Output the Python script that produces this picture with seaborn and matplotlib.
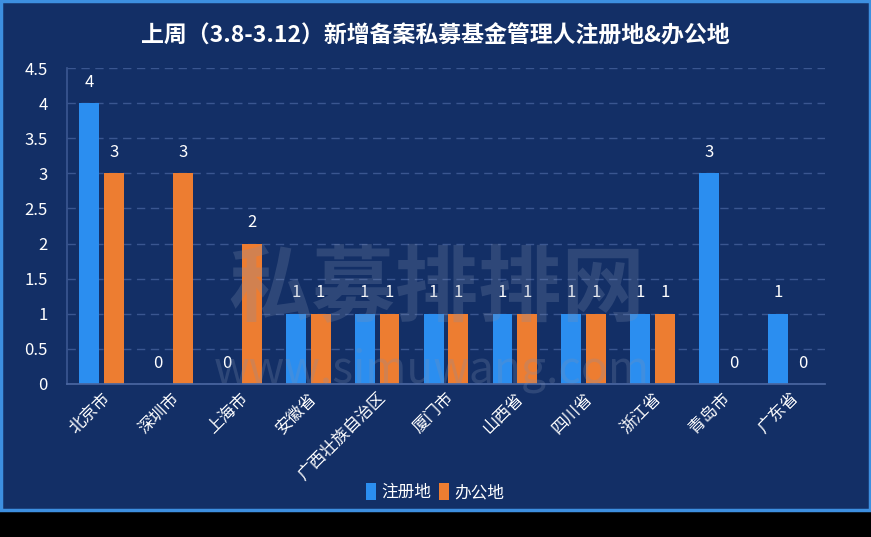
import pandas as pd
import matplotlib.pyplot as plt
import seaborn as sns
from matplotlib.patches import Rectangle

# data
regions = ['北京市', '深圳市', '上海市', '安徽省', '广西壮族自治区', '厦门市',
           '山西省', '四川省', '浙江省', '青岛市', '广东省']
registered = [4, 0, 0, 1, 1, 1, 1, 1, 1, 3, 1]
office = [3, 3, 2, 1, 1, 1, 1, 1, 1, 0, 0]
series_names = ['注册地', '办公地']
colors = ['#2b8ef0', '#ed7d31']

bg = '#132f66'

df = pd.DataFrame({
    'region': regions * 2,
    'count': registered + office,
    'kind': [series_names[0]] * len(regions) + [series_names[1]] * len(regions),
})

sns.set_theme(style='dark')
plt.rcParams['font.family'] = ['Noto Sans CJK SC', 'DejaVu Sans']

fig = plt.figure(figsize=(8.71, 5.37), dpi=100)
fig.patch.set_facecolor(bg)
# black strip at the bottom and light blue frame
fig.add_artist(Rectangle((0, 0), 1, 25 / 537, transform=fig.transFigure,
                         facecolor='black', edgecolor='none', zorder=-1))
fig.add_artist(Rectangle((0.0015, 27 / 537), 0.997, 1 - 28 / 537, transform=fig.transFigure,
                         facecolor='none', edgecolor='#3d8fe0', linewidth=2.5, zorder=-1))

ax = fig.add_axes([67 / 871, 1 - 384 / 537, (825 - 67) / 871, (384 - 68) / 537])
ax.set_facecolor(bg)

# faint watermark, drawn under the bars
fig.text(437 / 871, 1 - 290 / 537, '私募排排网', ha='center', va='center',
         color='#8090b0', alpha=0.25, fontsize=60, fontweight='bold', zorder=0)
fig.text(432 / 871, 1 - 370 / 537, 'www.simuwang.com', ha='center', va='center',
         color='#8090b0', alpha=0.25, fontsize=32, zorder=0)

sns.barplot(data=df, x='region', y='count', hue='kind', palette=colors,
            width=0.72, gap=0.2, ax=ax, legend=True, saturation=1,
            edgecolor='none', linewidth=0)

for cont in ax.containers:
    ax.bar_label(cont, padding=9, color='white', fontsize=12)

ax.set_ylim(0, 4.5)
ax.set_yticks([0, 0.5, 1, 1.5, 2, 2.5, 3, 3.5, 4, 4.5])
ax.set_yticklabels(['0', '0.5', '1', '1.5', '2', '2.5', '3', '3.5', '4', '4.5'])
ax.set_xlim(-0.5, len(regions) - 0.5)
ax.tick_params(axis='y', colors='white', labelsize=12, length=0, pad=14)
ax.tick_params(axis='x', colors='white', labelsize=12, length=0, pad=4)
plt.setp(ax.get_xticklabels(), rotation=45, ha='right', rotation_mode='anchor')
ax.set_xlabel('')
ax.set_ylabel('')

ax.grid(axis='y', color='#3a5690', linestyle=(0, (6, 4)), linewidth=1)
ax.grid(axis='x', visible=False)
ax.set_axisbelow(True)
for side in ['top', 'right']:
    ax.spines[side].set_visible(False)
ax.spines['left'].set_color('#3a5690')
ax.spines['bottom'].set_color('#4a66a0')

leg = ax.legend(loc='center', bbox_to_anchor=(435 / 871, 1 - 492 / 537),
                bbox_transform=fig.transFigure, ncol=2, frameon=False,
                handlelength=0.6, handleheight=1.2, handletextpad=0.3,
                columnspacing=0.5, fontsize=12)
for t in leg.get_texts():
    t.set_color('white')
for h in leg.legend_handles:
    h.set_edgecolor('none')

fig.text(435 / 871, 1 - 36 / 537, '上周（3.8-3.12）新增备案私募基金管理人注册地&办公地',
         ha='center', va='center', color='white', fontsize=16.5, fontweight='bold')

fig.savefig('out.png', dpi=100, facecolor=fig.get_facecolor())
